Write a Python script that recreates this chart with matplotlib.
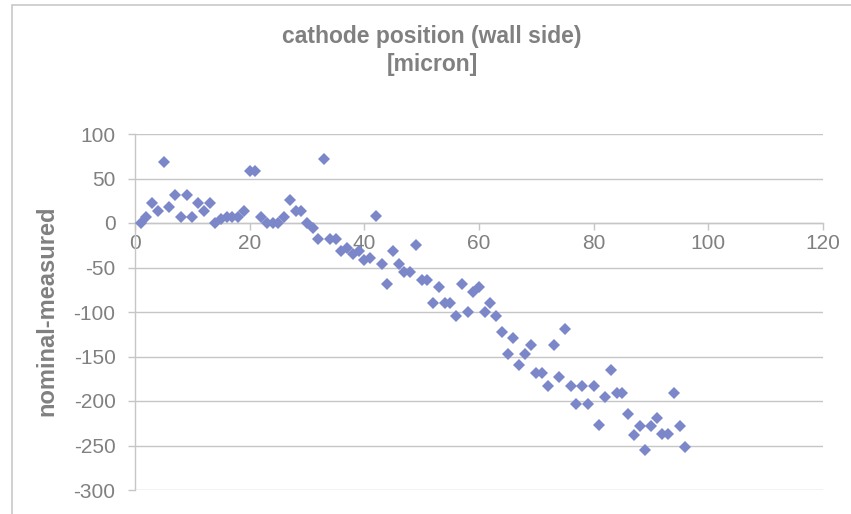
import matplotlib
matplotlib.use("Agg")
import matplotlib.pyplot as plt
from matplotlib.patches import Rectangle

# ---- data ----
positions = list(range(1, 97))
deviation = [
    0, 7, 22, 14, 68, 18, 32, 7, 32, 7,
    22, 14, 22, 0, 4, 7, 7, 7, 14, 58,
    58, 7, 0, 0, 0, 7, 26, 14, 14, 0,
    -6, -18, 72, -18, -18, -32, -28, -35, -31, -42,
    -39, 8, -46, -68, -32, -46, -55, -55, -25, -64,
    -64, -90, -72, -90, -90, -104, -68, -100, -78, -72,
    -100, -90, -104, -122, -147, -129, -159, -147, -137, -168,
    -168, -183, -137, -173, -119, -183, -203, -183, -203, -183,
    -227, -195, -165, -191, -191, -215, -238, -228, -255, -228,
    -219, -237, -237, -191, -228, -252,
]
x_ticks = [0, 20, 40, 60, 80, 100, 120]
y_ticks = [100, 50, 0, -50, -100, -150, -200, -250, -300]
title_line1 = "cathode position (wall side)"
title_line2 = "[micron]"
ylabel_text = "nominal-measured"

# ---- style ----
plt.rcParams['font.family'] = ['Liberation Sans', 'DejaVu Sans']
text_gray = '#808080'
grid_gray = '#C6C6C6'
marker_col = '#7B87C8'

W, H = 851, 514
fig = plt.figure(figsize=(W / 100, H / 100), dpi=100)
fig.patch.set_facecolor('white')

# outer chart border (only left/top visible)
fig.add_artist(Rectangle((12 / W, -0.1), 1.2, (H - 5) / H + 0.1,
                         transform=fig.transFigure, fill=False,
                         edgecolor='#C8C8C8', linewidth=1.2))

left, right, top, bottom = 135, 823, 134, 490
ax = fig.add_axes([left / W, 1 - bottom / H, (right - left) / W, (bottom - top) / H])

ax.plot(positions, deviation, linestyle='none', marker='D', markersize=6.2,
        markerfacecolor=marker_col, markeredgewidth=0, zorder=3, clip_on=False)

ax.set_xlim(0, 120)
ax.set_ylim(-300, 100)
ax.set_xticks(x_ticks)
ax.set_yticks(y_ticks)
ax.set_xticklabels([str(v) for v in x_ticks])
ax.set_yticklabels([str(v) for v in y_ticks])

ax.yaxis.grid(True, color=grid_gray, linewidth=1.0)
ax.set_axisbelow(True)

for s in ['top', 'right']:
    ax.spines[s].set_visible(False)
ax.spines['bottom'].set_position(('data', 0))
ax.spines['bottom'].set_color(grid_gray)
ax.spines['left'].set_color(grid_gray)
ax.spines['bottom'].set_linewidth(1.0)
ax.spines['left'].set_linewidth(1.0)

ax.tick_params(axis='x', direction='out', length=5, width=1.0, color=grid_gray,
               labelcolor=text_gray, labelsize=15, pad=3)
ax.tick_params(axis='y', direction='out', length=5, width=1.0, color=grid_gray,
               labelcolor=text_gray, labelsize=15, pad=9)

fig.text(432 / W, 1 - 37 / H, title_line1, ha='center', va='center',
         fontsize=16.5, fontweight='bold', color=text_gray)
fig.text(432 / W, 1 - 64 / H, title_line2, ha='center', va='center',
         fontsize=16.5, fontweight='bold', color=text_gray)

fig.text(47 / W, 1 - 311 / H, ylabel_text, rotation=90, ha='center', va='center',
         fontsize=17, fontweight='bold', color=text_gray)

fig.savefig('out.png', dpi=100, facecolor='white')
